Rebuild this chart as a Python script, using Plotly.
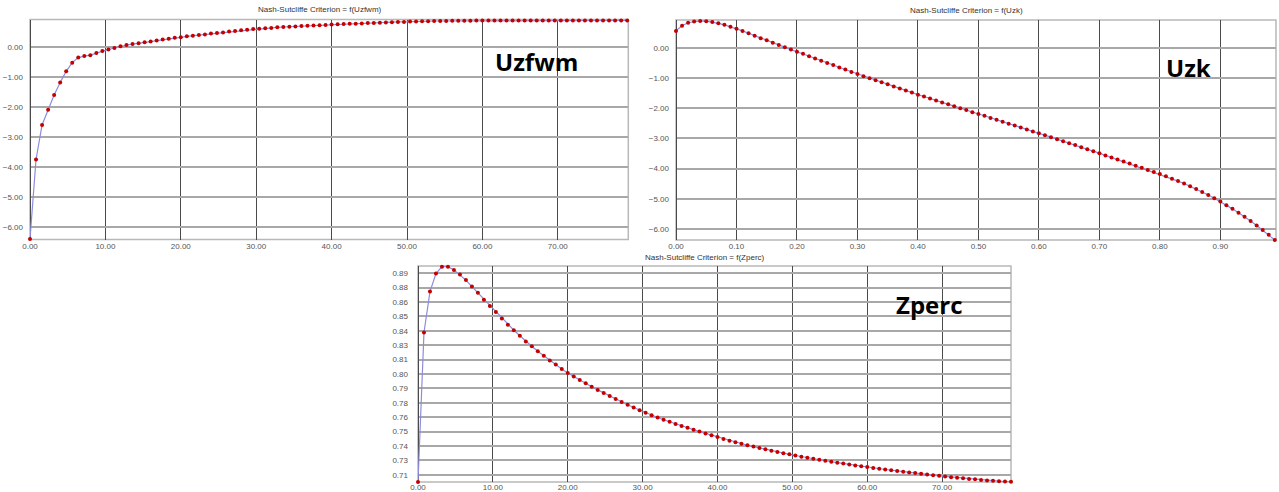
import plotly.graph_objects as go

W, H = 1279, 492

# ---------------- data ----------------
uzfwm_x = [0.0, 0.8, 1.6, 2.4, 3.2, 4.0, 4.8, 5.6, 6.4, 7.2, 8.0, 8.8, 9.6, 10.4, 11.2, 12.0, 12.8, 13.6, 14.4, 15.2,
           16.0, 16.8, 17.6, 18.4, 19.2, 20.0, 20.8, 21.6, 22.4, 23.2, 24.0, 24.8, 25.6, 26.4, 27.2, 28.0, 28.8, 29.6, 30.4, 31.2,
           32.0, 32.8, 33.6, 34.4, 35.2, 36.0, 36.8, 37.6, 38.4, 39.2, 40.0, 40.8, 41.6, 42.4, 43.2, 44.0, 44.8, 45.6, 46.4, 47.2,
           48.0, 48.8, 49.6, 50.4, 51.2, 52.0, 52.8, 53.6, 54.4, 55.2, 56.0, 56.8, 57.6, 58.4, 59.2, 60.0, 60.8, 61.6, 62.4, 63.2,
           64.0, 64.8, 65.6, 66.4, 67.2, 68.0, 68.8, 69.6, 70.4, 71.2, 72.0, 72.8, 73.6, 74.4, 75.2, 76.0, 76.8, 77.6, 78.4, 79.2]
uzfwm_nse = [-6.40, -3.75, -2.60, -2.09, -1.60, -1.18, -0.81, -0.52, -0.35, -0.30,
             -0.27, -0.20, -0.13, -0.08, -0.03, 0.03, 0.07, 0.10, 0.13, 0.16,
             0.19, 0.22, 0.25, 0.28, 0.31, 0.33, 0.36, 0.38, 0.40, 0.42,
             0.45, 0.47, 0.49, 0.52, 0.54, 0.56, 0.58, 0.60, 0.61, 0.63,
             0.64, 0.66, 0.67, 0.68, 0.69, 0.70, 0.71, 0.72, 0.73, 0.74,
             0.75, 0.76, 0.77, 0.78, 0.78, 0.79, 0.80, 0.80, 0.81, 0.82,
             0.83, 0.84, 0.84, 0.85, 0.85, 0.86, 0.86, 0.87, 0.87, 0.87,
             0.88, 0.88, 0.88, 0.88, 0.89, 0.89, 0.89, 0.89, 0.89, 0.89,
             0.89, 0.89, 0.89, 0.89, 0.89, 0.89, 0.89, 0.89, 0.89, 0.89,
             0.89, 0.89, 0.89, 0.89, 0.89, 0.89, 0.89, 0.89, 0.89, 0.89]

uzk_x = [0.00, 0.01, 0.02, 0.03, 0.04, 0.05, 0.06, 0.07, 0.08, 0.09, 0.10, 0.11, 0.12, 0.13, 0.14, 0.15, 0.16, 0.17, 0.18, 0.19,
         0.20, 0.21, 0.22, 0.23, 0.24, 0.25, 0.26, 0.27, 0.28, 0.29, 0.30, 0.31, 0.32, 0.33, 0.34, 0.35, 0.36, 0.37, 0.38, 0.39,
         0.40, 0.41, 0.42, 0.43, 0.44, 0.45, 0.46, 0.47, 0.48, 0.49, 0.50, 0.51, 0.52, 0.53, 0.54, 0.55, 0.56, 0.57, 0.58, 0.59,
         0.60, 0.61, 0.62, 0.63, 0.64, 0.65, 0.66, 0.67, 0.68, 0.69, 0.70, 0.71, 0.72, 0.73, 0.74, 0.75, 0.76, 0.77, 0.78, 0.79,
         0.80, 0.81, 0.82, 0.83, 0.84, 0.85, 0.86, 0.87, 0.88, 0.89, 0.90, 0.91, 0.92, 0.93, 0.94, 0.95, 0.96, 0.97, 0.98, 0.99]
uzk_nse = [0.56, 0.73, 0.83, 0.87, 0.89, 0.88, 0.85, 0.81, 0.76, 0.70,
           0.63, 0.56, 0.48, 0.40, 0.32, 0.25, 0.17, 0.09, 0.02, -0.06,
           -0.13, -0.20, -0.28, -0.35, -0.43, -0.50, -0.57, -0.65, -0.72, -0.80,
           -0.87, -0.94, -1.01, -1.07, -1.14, -1.21, -1.28, -1.35, -1.41, -1.48,
           -1.55, -1.61, -1.68, -1.74, -1.81, -1.87, -1.93, -2.00, -2.06, -2.13,
           -2.19, -2.25, -2.32, -2.38, -2.45, -2.51, -2.57, -2.64, -2.70, -2.77,
           -2.83, -2.89, -2.96, -3.03, -3.09, -3.16, -3.22, -3.29, -3.36, -3.42,
           -3.49, -3.56, -3.63, -3.70, -3.76, -3.83, -3.90, -3.97, -4.04, -4.11,
           -4.18, -4.25, -4.33, -4.41, -4.49, -4.58, -4.67, -4.77, -4.87, -4.98,
           -5.09, -5.21, -5.33, -5.46, -5.59, -5.73, -5.88, -6.03, -6.19, -6.36]

zperc_x = uzfwm_x
zperc_nse = [0.7083, 0.8375, 0.8729, 0.8885, 0.8944, 0.8944, 0.8916, 0.8876, 0.8828, 0.8772,
             0.8718, 0.8658, 0.8604, 0.8553, 0.8497, 0.8443, 0.8395, 0.8347, 0.8298, 0.8256,
             0.8213, 0.8174, 0.8134, 0.8098, 0.8060, 0.8026, 0.7995, 0.7965, 0.7936, 0.7907,
             0.7879, 0.7852, 0.7826, 0.7800, 0.7775, 0.7751, 0.7727, 0.7704, 0.7681, 0.7660,
             0.7640, 0.7621, 0.7603, 0.7585, 0.7568, 0.7551, 0.7535, 0.7519, 0.7503, 0.7488,
             0.7473, 0.7455, 0.7440, 0.7427, 0.7414, 0.7401, 0.7389, 0.7377, 0.7365, 0.7354,
             0.7343, 0.7332, 0.7322, 0.7312, 0.7302, 0.7293, 0.7284, 0.7275, 0.7266, 0.7258,
             0.7250, 0.7242, 0.7234, 0.7226, 0.7219, 0.7212, 0.7205, 0.7198, 0.7191, 0.7185,
             0.7178, 0.7172, 0.7166, 0.7160, 0.7154, 0.7148, 0.7142, 0.7136, 0.7131, 0.7125,
             0.7120, 0.7115, 0.7110, 0.7106, 0.7101, 0.7097, 0.7093, 0.7090, 0.7087, 0.7085]

zperc_tick_vals = [0.7145, 0.72695, 0.7394, 0.75185, 0.7643, 0.77675, 0.7892, 0.80165,
                   0.8141, 0.82655, 0.839, 0.85145, 0.8639, 0.87635, 0.8888]
zperc_tick_text = ["0.71", "0.73", "0.74", "0.75", "0.76", "0.78", "0.79", "0.80",
                   "0.81", "0.83", "0.84", "0.85", "0.86", "0.88", "0.89"]

titles = ["Nash-Sutcliffe Criterion = f(Uzfwm)",
          "Nash-Sutcliffe Criterion = f(Uzk)",
          "Nash-Sutcliffe Criterion = f(Zperc)"]
big_labels = ["Uzfwm", "Uzk", "Zperc"]

# ---------------- layout helpers ----------------
def px_x(p):
    return p / W

def px_y(p):
    return 1 - p / H

panels = [
    # (x0, x1, y_top, y_bottom) in pixels
    (30, 628.3, 19.5, 239.5),
    (676, 1276, 20, 240),
    (418, 1011, 266, 482),
]

LINE_C = "#8c8cdc"
MARK_C = "#c40000"
VGRID = "#4a4a4a"
HGRID = "#a8a8a8"
FRAME = "#b8b8b8"
TICKFONT = dict(family="Liberation Sans, Arial, sans-serif", size=8, color="#555555")

fig = go.Figure()

series = [(uzfwm_x, uzfwm_nse), (uzk_x, uzk_nse), (zperc_x, zperc_nse)]
for i, (xs, ys) in enumerate(series):
    sfx = "" if i == 0 else str(i + 1)
    fig.add_trace(go.Scatter(
        x=xs, y=ys, mode="lines+markers", xaxis="x" + sfx, yaxis="y" + sfx,
        line=dict(color=LINE_C, width=1.2),
        marker=dict(color=MARK_C, size=4, line=dict(width=0)),
        cliponaxis=False, showlegend=False, hoverinfo="x+y"))

x_ranges = [[0, 79.35], [0, 0.992], [0, 79.2]]
y_ranges = [[-6.42, 0.92], [-6.36, 0.92], [0.7083, 0.8950]]
x_dticks = [10, 0.1, 10]

layout = dict(width=W, height=H, margin=dict(l=0, r=0, t=0, b=0, autoexpand=False),
              paper_bgcolor="white", plot_bgcolor="white", showlegend=False)

for i, (x0, x1, yt, yb) in enumerate(panels):
    sfx = "" if i == 0 else str(i + 1)
    xa = dict(domain=[px_x(x0), px_x(x1)], anchor="y" + sfx, range=x_ranges[i],
              dtick=x_dticks[i], tick0=0, tickformat=".2f", showgrid=True,
              gridcolor=VGRID, gridwidth=1, zeroline=True, zerolinecolor=VGRID,
              zerolinewidth=1, showline=False, ticks="", tickfont=TICKFONT,
              ticklabelstandoff=0, automargin=False)
    ya = dict(domain=[px_y(yb), px_y(yt)], anchor="x" + sfx, range=y_ranges[i],
              showgrid=True, gridcolor=HGRID, gridwidth=1.5, zeroline=False,
              showline=False, ticks="", tickfont=TICKFONT, ticklabelstandoff=6,
              automargin=False)
    if i < 2:
        ya.update(dtick=1, tick0=0, tickformat=".2f")
    else:
        ya.update(tickmode="array", tickvals=zperc_tick_vals, ticktext=zperc_tick_text,
                  ticklabelstandoff=9)
        xa.update(ticklabelstandoff=-1)
    layout["xaxis" + sfx] = xa
    layout["yaxis" + sfx] = ya

fig.update_layout(**layout)

# frames
for i in range(3):
    sfx = "" if i == 0 else str(i + 1)
    fig.add_shape(type="rect", xref="x" + sfx + " domain", yref="y" + sfx + " domain",
                  x0=0, x1=1, y0=0, y1=1, line=dict(color=FRAME, width=1.5),
                  fillcolor="rgba(0,0,0,0)", layer="below")

# titles
title_pos = [(320, 10), (966, 11), (705, 257)]
for t, (cx, cy) in zip(titles, title_pos):
    fig.add_annotation(text=t, xref="paper", yref="paper", x=px_x(cx), y=px_y(cy),
                       xanchor="center", yanchor="middle", showarrow=False,
                       font=dict(family="Liberation Sans, Arial, sans-serif", size=8, color="#333333"))

# big labels
big_pos = [(536, 62), (1188, 68), (929, 304)]
for t, (cx, cy) in zip(big_labels, big_pos):
    fig.add_annotation(text=t, xref="paper", yref="paper", x=px_x(cx), y=px_y(cy),
                       xanchor="center", yanchor="middle", showarrow=False,
                       font=dict(family="Open Sans", size=24, color="#000000", weight="bold"))

fig.write_html("out.html")
